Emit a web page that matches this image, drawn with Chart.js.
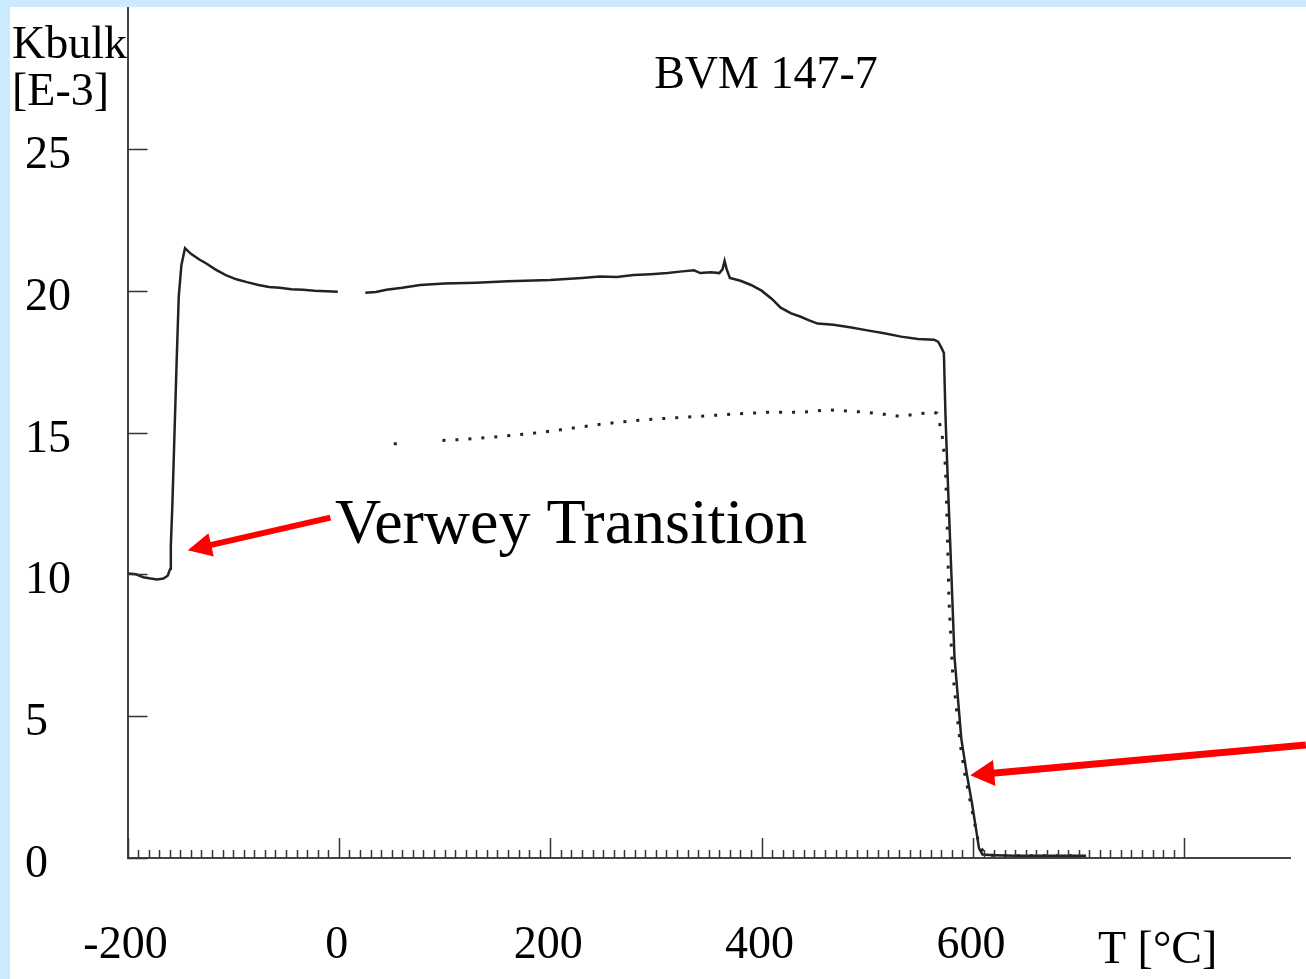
<!DOCTYPE html>
<html>
<head>
<meta charset="utf-8">
<script src="https://cdn.jsdelivr.net/npm/chart.js@4"></script>
<style>
html, body { margin: 0; padding: 0; background: #cbeafd; overflow: hidden; }
#wrap { position: absolute; left: 10px; top: 7px; width: 1296px; height: 972px; background: #fff; }
canvas { display: block; }
</style>
</head>
<body>
<div id="wrap"><canvas id="chart" width="1296" height="972"></canvas></div>
<script>
// heating run (solid), gap around 0 °C
const heatT = [-200, -192, -185, -178, -172, -166, -162, -159.5, -159, -157.5, -155.5, -153.5, -151.5, -149, -145.6,
    -140, -132, -125, -117, -107, -97, -87, -76, -66, -56, -45, -34, -23, -12, -1, null,
    25, 35, 45, 60, 77, 100, 130, 160, 200, 230, 247, 263, 279, 295, 311, 325, 336, 342, 352, 360, 363, 365, 367,
    370, 380, 390, 400, 410, 418, 428, 437, 445, 453, 468, 485, 500, 516, 532, 548, 563, 567, 570, 572.5, 574,
    575.8, 579.3, 582.5, 589, 594, 599, 603, 605.7, 609, 620, 640, 660, 680, 707];
const heatK = [10.03, 10.0, 9.9, 9.85, 9.82, 9.85, 9.95, 10.2, 11.0, 12.5, 15.0, 17.5, 19.8, 20.9, 21.5,
    21.3, 21.1, 20.95, 20.75, 20.55, 20.4, 20.3, 20.2, 20.13, 20.1, 20.05, 20.03, 20.0, 19.98, 19.96, null,
    19.93, 19.95, 20.03, 20.1, 20.2, 20.25, 20.28, 20.33, 20.38, 20.45, 20.5, 20.48, 20.55, 20.58, 20.62, 20.68, 20.72, 20.62, 20.65, 20.62, 20.75, 21.05, 20.75,
    20.45, 20.35, 20.2, 20.0, 19.7, 19.4, 19.2, 19.08, 18.95, 18.84, 18.8, 18.7, 18.6, 18.5, 18.38, 18.3, 18.27, 18.2, 18.0, 17.8, 15.6,
    13.7, 10.3, 7.1, 4.2, 3.0, 1.95, 1.0, 0.35, 0.12, 0.1, 0.08, 0.08, 0.08, 0.08];

// cooling run (dotted)
const coolT = [52, 56, null, 98, 116, 134, 150, 170, 190, 210, 230, 250, 279, 310, 342, 373, 405, 437, 462, 480, 500,
    516, 531, 547, 563, 566, 570.6, 574, 575.8, 577.3, 580.7, 584, 588, 592.4, 599, 605.7, 612, 640, 680, 700];
const coolK = [14.6, 14.6, null, 14.72, 14.75, 14.8, 14.85, 14.92, 15.0, 15.1, 15.2, 15.3, 15.42, 15.5, 15.57, 15.65, 15.71, 15.71, 15.8, 15.76, 15.71,
    15.64, 15.57, 15.65, 15.71, 15.68, 15.0, 13.8, 11.5, 9.1, 6.6, 5.4, 4.0, 2.95, 1.7, 0.47, 0.1, 0.08, 0.08, 0.08];

const xTickLabels = [-200, 0, 200, 400, 600];
const yTickLabels = [0, 5, 10, 15, 20, 25];

const toPoints = (xs, ys) => xs.map((x, i) => (x === null ? { x: null, y: null } : { x: x, y: ys[i] }));

const serif = '"Liberation Serif", "Times New Roman", serif';

function arrow(ctx, sx, sy, tx, ty, w, len, half) {
    const dx = tx - sx, dy = ty - sy;
    const d = Math.hypot(dx, dy);
    const ux = dx / d, uy = dy / d;
    const bx = tx - ux * len, by = ty - uy * len;
    ctx.strokeStyle = '#ff0000';
    ctx.fillStyle = '#ff0000';
    ctx.lineWidth = w;
    ctx.lineCap = 'butt';
    ctx.beginPath();
    ctx.moveTo(sx, sy);
    ctx.lineTo(bx + ux * 2, by + uy * 2);
    ctx.stroke();
    ctx.beginPath();
    ctx.moveTo(tx, ty);
    ctx.lineTo(bx - uy * half, by + ux * half);
    ctx.lineTo(bx + uy * half, by - ux * half);
    ctx.closePath();
    ctx.fill();
}

const decor = {
    id: 'decor',
    afterDraw(chart) {
        const ctx = chart.ctx;
        const xs = chart.scales.x, ys = chart.scales.y;
        const area = chart.chartArea;
        ctx.save();

        // ticks pointing into the plot
        ctx.strokeStyle = '#333';
        ctx.lineWidth = 1.5;
        for (let v = -200; v <= 800; v += 10) {
            const px = Math.round(xs.getPixelForValue(v)) + 0.5;
            const len = v % 200 === 0 ? 20 : 8;
            ctx.beginPath();
            ctx.moveTo(px, area.bottom);
            ctx.lineTo(px, area.bottom - len);
            ctx.stroke();
        }
        for (const v of yTickLabels) {
            const py = Math.round(ys.getPixelForValue(v)) + 0.5;
            ctx.beginPath();
            ctx.moveTo(area.left, py);
            ctx.lineTo(area.left + 20, py);
            ctx.stroke();
        }

        // texts
        ctx.fillStyle = '#000';
        ctx.textBaseline = 'alphabetic';
        ctx.font = '46px ' + serif;
        ctx.textAlign = 'left';
        ctx.fillText('Kbulk', 2, 51);
        ctx.fillText('[E-3]', 2, 98);
        ctx.fillText('T [°C]', 1088, 956);
        ctx.textAlign = 'center';
        ctx.fillText('BVM 147-7', 756, 81);

        ctx.textAlign = 'left';
        ctx.font = '64px ' + serif;
        ctx.fillText('Verwey Transition', 325, 536);

        // arrows
        arrow(ctx, xs.getPixelForValue(-8), ys.getPixelForValue(12.0),
            xs.getPixelForValue(-143), ys.getPixelForValue(10.85), 6, 24, 12);
        arrow(ctx, xs.getPixelForValue(915), ys.getPixelForValue(3.98),
            xs.getPixelForValue(597.5), ys.getPixelForValue(2.92), 7, 24, 13);
        ctx.restore();
    }
};

new Chart(document.getElementById('chart').getContext('2d'), {
    type: 'line',
    data: {
        datasets: [
            {
                label: 'heating',
                data: toPoints(heatT, heatK),
                borderColor: '#222',
                borderWidth: 2.5,
                pointRadius: 0,
                tension: 0,
                spanGaps: false,
            },
            {
                label: 'cooling',
                data: toPoints(coolT, coolK),
                borderColor: '#222',
                borderWidth: 3,
                borderDash: [3, 10],
                pointRadius: 0,
                tension: 0,
                spanGaps: false,
            }
        ]
    },
    options: {
        responsive: false,
        animation: false,
        layout: { padding: { left: 15, right: 16, top: 0, bottom: 0 } },
        scales: {
            x: {
                type: 'linear',
                min: -200,
                max: 900,
                afterBuildTicks: (s) => { s.ticks = xTickLabels.map(v => ({ value: v })); },
                afterFit: (s) => { s.height = 121; s.paddingLeft = 0; s.paddingRight = 0; },
                grid: { display: false, drawTicks: false },
                border: { display: true, color: '#444', width: 2 },
                ticks: {
                    color: '#000',
                    font: { family: serif, size: 46 },
                    padding: 60,
                    maxRotation: 0,
                    autoSkip: false,
                    labelOffset: -2,
                }
            },
            y: {
                type: 'linear',
                min: 0,
                max: 30,
                afterBuildTicks: (s) => { s.ticks = yTickLabels.map(v => ({ value: v })); },
                afterFit: (s) => { s.width = 102.5; s.paddingTop = 0; s.paddingBottom = 0; },
                grid: { display: false, drawTicks: false },
                border: { display: true, color: '#444', width: 2 },
                ticks: {
                    color: '#000',
                    font: { family: serif, size: 46 },
                    crossAlign: 'far',
                    labelOffset: 7,
                    autoSkip: false,
                }
            }
        },
        plugins: {
            legend: { display: false },
            tooltip: { enabled: false },
            title: { display: false }
        }
    },
    plugins: [decor]
});
</script>
</body>
</html>
